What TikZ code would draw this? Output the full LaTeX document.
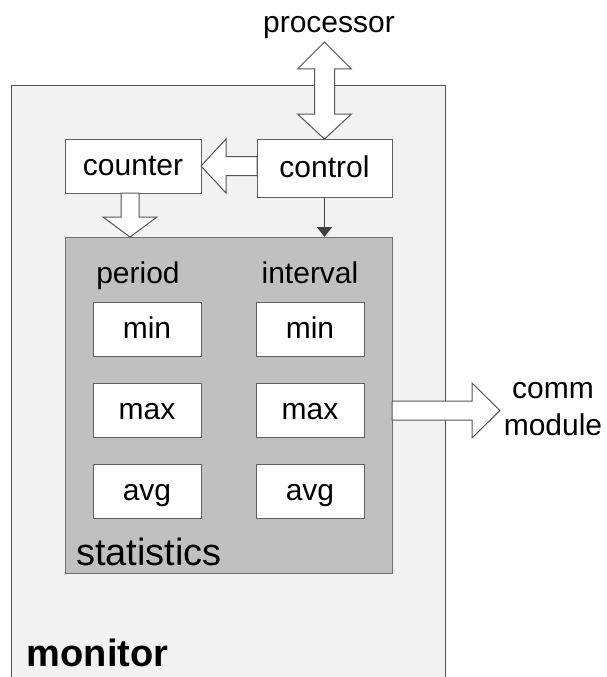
\documentclass[tikz,border=0pt]{standalone}
\usepackage{fontspec}
\setmainfont{Liberation Sans}
\usetikzlibrary{calc,arrows.meta}

\definecolor{monfill}{HTML}{F2F2F2}
\definecolor{monedge}{HTML}{505050}
\definecolor{statfill}{HTML}{C0C0C0}
\definecolor{statedge}{HTML}{707070}
\definecolor{boxedge}{HTML}{606060}
\definecolor{arrowedge}{HTML}{555555}
\definecolor{ctrlline}{HTML}{404040}

% block arrow: start, tip, shaft half-width, head half-width, head length
\newcommand\blockarrow[5]{%
  \path (#1) coordinate (ba-s) (#2) coordinate (ba-t)
        ($(ba-t)!#5!(ba-s)$) coordinate (ba-b);
  \draw[blockarr] ($(ba-s)!#3!90:(ba-t)$) -- ($(ba-b)!#3!90:(ba-t)$)
    -- ($(ba-b)!#4!90:(ba-t)$) -- (ba-t) -- ($(ba-b)!#4!-90:(ba-t)$)
    -- ($(ba-b)!#3!-90:(ba-t)$) -- ($(ba-s)!#3!-90:(ba-t)$) -- cycle;}

% double block arrow: tip A, tip B, shaft half-width, head half-width,
% head length at A, head length at B
\newcommand\dblarrow[6]{%
  \path (#1) coordinate (da-a) (#2) coordinate (da-b)
        ($(da-a)!#5!(da-b)$) coordinate (da-ha)
        ($(da-b)!#6!(da-a)$) coordinate (da-hb);
  \draw[blockarr] (da-a) -- ($(da-ha)!#4!90:(da-b)$) -- ($(da-ha)!#3!90:(da-b)$)
    -- ($(da-hb)!#3!-90:(da-a)$) -- ($(da-hb)!#4!-90:(da-a)$) -- (da-b)
    -- ($(da-hb)!#4!90:(da-a)$) -- ($(da-hb)!#3!90:(da-a)$)
    -- ($(da-ha)!#3!-90:(da-b)$) -- ($(da-ha)!#4!-90:(da-b)$) -- cycle;}

\begin{document}
\begin{tikzpicture}[x=1pt,y=-1pt,
  every node/.style={inner sep=0pt, outer sep=0pt},
  txt/.style={font=\fontsize{30}{37}\selectfont},
  bigtxt/.style={font=\fontsize{38}{44}\selectfont},
  box/.style={draw=boxedge, line width=1pt, fill=white, txt,
    text height=21pt, text depth=3pt},
  bigbox/.style={box, minimum width=136pt, minimum height=56pt},
  cell/.style={box, minimum width=108pt, minimum height=54pt},
  blockarr/.style={draw=arrowedge, fill=white, line width=1pt, line join=miter},
  ctrlarrow/.style={draw=ctrlline, line width=1.5pt,
    -{Triangle[width=15pt,length=10pt]}}]

\useasboundingbox (0,0) rectangle (607,677);

% monitor frame (its lower edge lies below the page)
\node[draw=monedge, fill=monfill, line width=1pt, anchor=north west,
  minimum width=434pt, minimum height=600pt] (monitor) at (11,85) {};
\node[bigtxt, font=\fontsize{38}{44}\selectfont\bfseries, anchor=base west]
  (monlabel) at (27,666) {monitor};

% counter and control
\node[bigbox, minimum width=136pt, minimum height=54pt] (counter) at (133,166) {counter};
\node[bigbox, minimum width=135pt, minimum height=58pt] (control) at (324.5,168) {control};

% statistics block
\node[draw=statedge, fill=statfill, line width=1pt,
  minimum width=327pt, minimum height=336pt] (stats) at (228.5,405) {};
\node[bigtxt, anchor=base west] (statlabel) at (76,565) {statistics};

\node[txt, anchor=base] (period) at (138,283) {period};
\node[txt, anchor=base] (interval) at (310,283) {interval};

\node[cell] (pmin) at (147,329) {min};
\node[cell] (pmax) at (147,410) {max};
\node[cell] (pavg) at (147,491) {avg};
\node[cell] (imin) at (310,329) {min};
\node[cell] (imax) at (310,410) {max};
\node[cell] (iavg) at (310,491) {avg};

% external endpoints
\node[txt, anchor=base] (processor) at (329,33) {processor};
\coordinate (proc-tip) at (324.5,42);
\node[txt, align=center, anchor=base] (comm) at (553,435) {comm\\module};
\coordinate (comm-tip) at (500,410.5);

% connectors
\dblarrow{proc-tip}{control.north}{10pt}{27pt}{27pt}{25pt}
\blockarrow{control.west |- counter.east}{counter.east}{9.5pt}{27pt}{25pt}
\blockarrow{$(counter.south)+(-3,0)$}{$(counter.south |- stats.north)+(-3,0)$}{9pt}{27pt}{20pt}
\blockarrow{$(stats.east)+(0,5.5)$}{comm-tip}{9.5pt}{27.5pt}{28pt}
\draw[ctrlarrow] (control.south) -- (control.south |- stats.north);

\end{tikzpicture}
\end{document}
